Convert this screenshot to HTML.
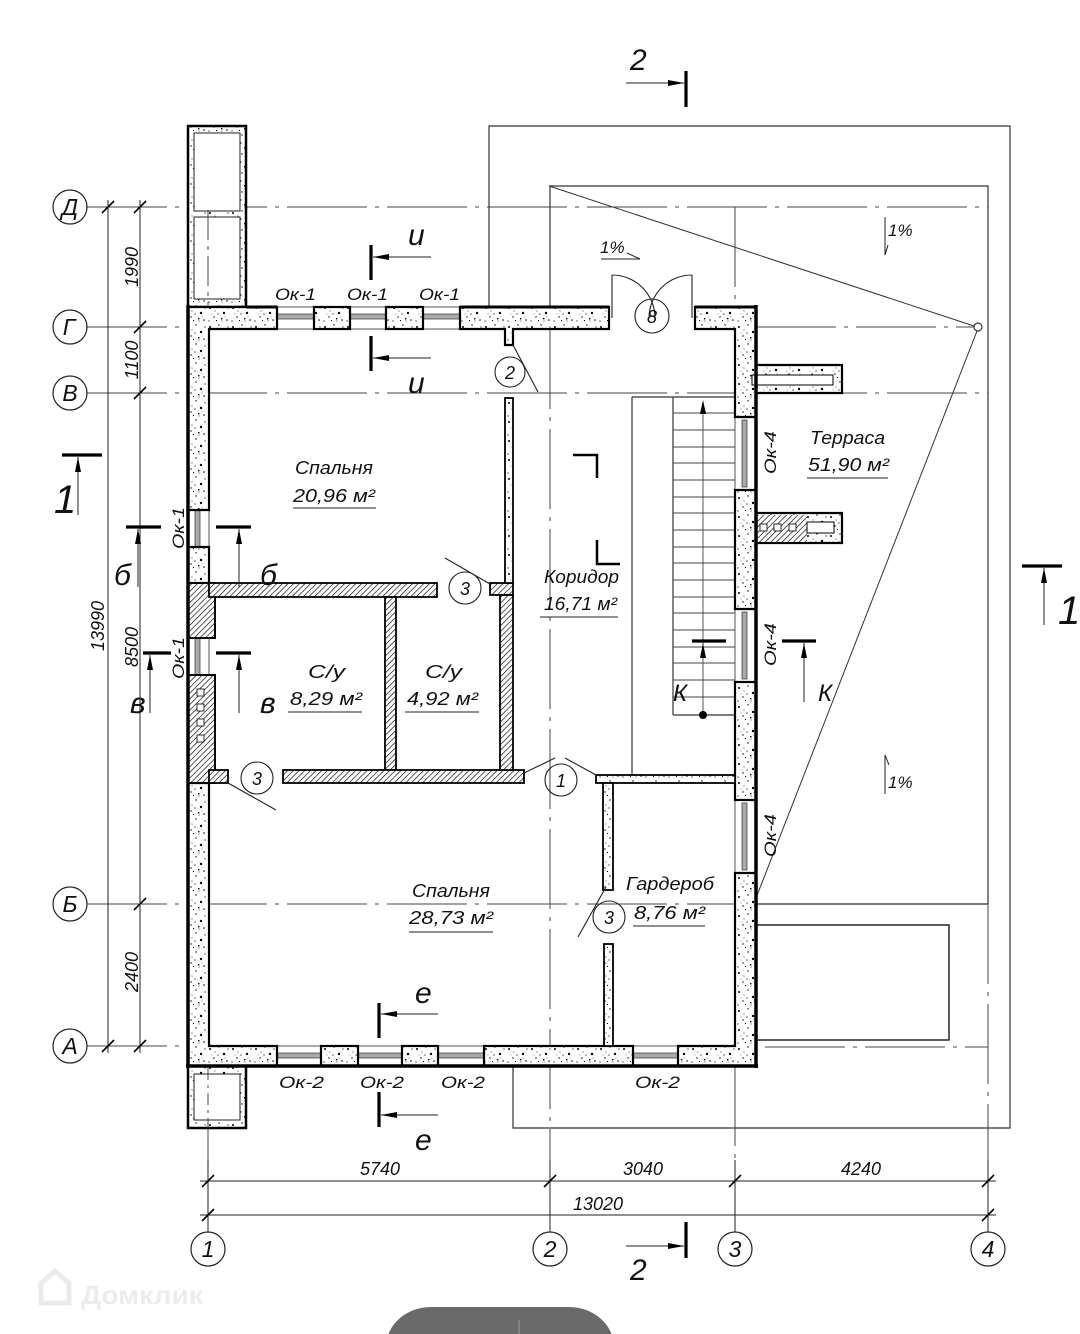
<!DOCTYPE html>
<html><head><meta charset="utf-8">
<style>
html,body{margin:0;padding:0;background:#fff;}
svg{display:block;}
text{font-family:"Liberation Sans",sans-serif;font-style:italic;fill:#111;}
</style></head><body>
<svg width="1080" height="1334" viewBox="0 0 1080 1334" xmlns="http://www.w3.org/2000/svg">
<defs>
<pattern id="conc" width="23" height="19" patternUnits="userSpaceOnUse">
<rect width="23" height="19" fill="#fff"/>
<circle cx="3" cy="4" r="1" fill="#000"/>
<circle cx="12" cy="2" r="0.7" fill="#000"/>
<circle cx="17" cy="9" r="1.2" fill="#000"/>
<circle cx="7" cy="13" r="0.7" fill="#000"/>
<circle cx="20" cy="16" r="0.8" fill="#000"/>
<circle cx="2" cy="17" r="0.6" fill="#000"/>
<circle cx="11" cy="10" r="0.6" fill="#000"/>
<circle cx="8" cy="7" r="0.5" fill="#000"/>
<circle cx="21" cy="4" r="0.6" fill="#000"/>
<circle cx="15" cy="17" r="0.5" fill="#000"/>
<circle cx="5" cy="10" r="0.4" fill="#000"/>
<circle cx="18" cy="13" r="0.4" fill="#000"/>
<rect x="14" y="14" width="1.4" height="1.4" fill="#000"/>
<rect x="9" y="16" width="1" height="1" fill="#000"/>
</pattern>
<pattern id="hatch" width="4" height="4" patternUnits="userSpaceOnUse" patternTransform="rotate(45)">
<rect width="4" height="4" fill="#fff"/>
<line x1="0" y1="0" x2="0" y2="4" stroke="#000" stroke-width="1.3"/>
</pattern>
</defs>
<rect width="1080" height="1334" fill="#fff"/>

<!-- ===== thin lines: terrace outlines, axes ===== -->
<g fill="none" stroke="#333" stroke-width="1.2">
<polyline points="489,307 489,126 1010,126 1010,1128 513,1128 513,1066"/>
<polyline points="550,307 550,186 988,186 988,904"/>
<line x1="756" y1="904" x2="988" y2="904"/>
<rect x="756" y="925" width="193" height="115" stroke-width="1.6"/>
<line x1="549" y1="186" x2="974" y2="326" stroke-width="1"/>
<line x1="977" y1="331" x2="756" y2="898" stroke-width="1"/>
<circle cx="978" cy="327" r="4"/>
<!-- stairs -->
<line x1="632" y1="397" x2="632" y2="775"/>
<line x1="632" y1="397" x2="735" y2="397"/>
<line x1="673" y1="397" x2="673" y2="715"/>
<line x1="673" y1="715" x2="735" y2="715"/>
</g>
<g stroke="#444" stroke-width="0.9">
<line x1="673" y1="413" x2="735" y2="413"/><line x1="673" y1="430" x2="735" y2="430"/>
<line x1="673" y1="447" x2="735" y2="447"/><line x1="673" y1="463" x2="735" y2="463"/>
<line x1="673" y1="480" x2="735" y2="480"/><line x1="673" y1="497" x2="735" y2="497"/>
<line x1="673" y1="513" x2="735" y2="513"/><line x1="673" y1="530" x2="735" y2="530"/>
<line x1="673" y1="547" x2="735" y2="547"/><line x1="673" y1="563" x2="735" y2="563"/>
<line x1="673" y1="580" x2="735" y2="580"/><line x1="673" y1="597" x2="735" y2="597"/>
<line x1="673" y1="613" x2="735" y2="613"/><line x1="673" y1="630" x2="735" y2="630"/>
<line x1="673" y1="647" x2="735" y2="647"/><line x1="673" y1="663" x2="735" y2="663"/>
<line x1="673" y1="680" x2="735" y2="680"/><line x1="673" y1="697" x2="735" y2="697"/>
<line x1="703" y1="405" x2="703" y2="715"/>
</g>
<polygon points="703,400 700,414 706,414" fill="#000"/>
<circle cx="703" cy="715" r="4" fill="#000"/>

<!-- axis lines (dash-dot) -->
<g fill="none" stroke="#444" stroke-width="1" stroke-dasharray="80 8 4 8">
<line x1="87" y1="207" x2="988" y2="207"/>
<line x1="87" y1="327" x2="188" y2="327"/>
<line x1="756" y1="327" x2="974" y2="327"/>
<line x1="87" y1="393" x2="988" y2="393"/>
<line x1="87" y1="904" x2="735" y2="904"/>
<line x1="87" y1="1046" x2="188" y2="1046"/>
<line x1="765" y1="1047" x2="988" y2="1047"/>
<line x1="550" y1="329" x2="550" y2="1232"/>
<line x1="735" y1="207" x2="735" y2="307"/>
<line x1="735" y1="1066" x2="735" y2="1232"/>
<line x1="988" y1="904" x2="988" y2="1232"/>
<line x1="208" y1="1128" x2="208" y2="1232"/>
</g>

<!-- ===== dimension lines ===== -->
<g stroke="#222" stroke-width="1" fill="none">
<line x1="108" y1="200" x2="108" y2="1053"/>
<line x1="140" y1="200" x2="140" y2="1053"/>
<line x1="200" y1="1181" x2="996" y2="1181"/>
<line x1="200" y1="1215" x2="996" y2="1215"/>
<line x1="208" y1="1160" x2="208" y2="1232"/>
<line x1="550" y1="1160" x2="550" y2="1232"/>
<line x1="735" y1="1160" x2="735" y2="1232"/>
<line x1="988" y1="1160" x2="988" y2="1232"/>
</g>
<g stroke="#000" stroke-width="1.6">
<line x1="102" y1="213" x2="114" y2="201"/><line x1="102" y1="1052" x2="114" y2="1040"/>
<line x1="134" y1="213" x2="146" y2="201"/><line x1="134" y1="333" x2="146" y2="321"/>
<line x1="134" y1="399" x2="146" y2="387"/><line x1="134" y1="910" x2="146" y2="898"/>
<line x1="134" y1="1052" x2="146" y2="1040"/>
<line x1="202" y1="1187" x2="214" y2="1175"/><line x1="544" y1="1187" x2="556" y2="1175"/>
<line x1="729" y1="1187" x2="741" y2="1175"/><line x1="982" y1="1187" x2="994" y2="1175"/>
<line x1="202" y1="1221" x2="214" y2="1209"/><line x1="982" y1="1221" x2="994" y2="1209"/>
</g>

<!-- axis circles -->
<g fill="#fff" stroke="#222" stroke-width="1.2">
<circle cx="70" cy="207" r="17"/><circle cx="70" cy="327" r="17"/><circle cx="70" cy="393" r="17"/>
<circle cx="70" cy="904" r="17"/><circle cx="70" cy="1046" r="17"/>
<circle cx="208" cy="1249" r="17"/><circle cx="550" cy="1249" r="17"/>
<circle cx="735" cy="1249" r="17"/><circle cx="988" cy="1249" r="17"/>
</g>
<g font-size="23" text-anchor="middle">
<text x="70" y="215">Д</text><text x="69" y="335">Г</text><text x="70" y="401">В</text>
<text x="70" y="912">Б</text><text x="70" y="1054">А</text>
<text x="208" y="1257">1</text><text x="550" y="1257">2</text>
<text x="735" y="1257">3</text><text x="988" y="1257">4</text>
</g>

<!-- dimension labels -->
<g font-size="18" text-anchor="middle">
<text transform="translate(138,267) rotate(-90)">1990</text>
<text transform="translate(138,360) rotate(-90)">1100</text>
<text transform="translate(104,626) rotate(-90)">13990</text>
<text transform="translate(138,647) rotate(-90)">8500</text>
<text transform="translate(138,972) rotate(-90)">2400</text>
<text x="380" y="1175">5740</text>
<text x="643" y="1175">3040</text>
<text x="861" y="1175">4240</text>
<text x="598" y="1210">13020</text>
</g>

<!-- ===== chimneys ===== -->
<rect x="188" y="126" width="58" height="181" fill="url(#conc)" stroke="#000" stroke-width="2.5"/>
<rect x="194" y="133" width="46" height="78" fill="#fff" stroke="#222" stroke-width="1"/>
<rect x="194" y="217" width="46" height="82" fill="#fff" stroke="#222" stroke-width="1"/>
<line x1="208" y1="210" x2="208" y2="305" stroke="#444" stroke-width="1" stroke-dasharray="30 6 4 6"/>
<rect x="188" y="1066" width="58" height="62" fill="url(#conc)" stroke="#000" stroke-width="2.5"/>
<rect x="194" y="1074" width="46" height="46" fill="#fff" stroke="#222" stroke-width="1"/>
<line x1="208" y1="1068" x2="208" y2="1128" stroke="#444" stroke-width="1" stroke-dasharray="12 5 3 5"/>

<!-- ===== windows ===== -->
<g fill="#fff" stroke="#444" stroke-width="0.9">
<rect x="277" y="307" width="37" height="22"/><rect x="350" y="307" width="36" height="22"/><rect x="423" y="307" width="37" height="22"/>
<rect x="188" y="510" width="21" height="37"/><rect x="188" y="638" width="21" height="37"/>
<rect x="735" y="417" width="21" height="73"/><rect x="735" y="609" width="21" height="73"/><rect x="735" y="800" width="21" height="73"/>
<rect x="277" y="1046" width="44" height="20"/><rect x="358" y="1046" width="44" height="20"/>
<rect x="438" y="1046" width="46" height="20"/><rect x="633" y="1046" width="45" height="20"/>
</g>
<g fill="#aaa" stroke="#333" stroke-width="0.7">
<rect x="277" y="314" width="37" height="5"/><rect x="350" y="314" width="36" height="5"/><rect x="423" y="314" width="37" height="5"/>
<rect x="195" y="510" width="5" height="37"/><rect x="195" y="638" width="5" height="37"/>
<rect x="742" y="420" width="5" height="67"/><rect x="742" y="612" width="5" height="67"/><rect x="742" y="803" width="5" height="67"/>
<rect x="277" y="1053" width="44" height="5"/><rect x="358" y="1053" width="44" height="5"/>
<rect x="438" y="1053" width="46" height="5"/><rect x="633" y="1053" width="45" height="5"/>
</g>

<!-- ===== exterior walls ===== -->
<g fill="url(#conc)" stroke="#000" stroke-width="2.2" stroke-linejoin="miter">
<path d="M188,307 H277 V329 H209 V510 H188 Z"/>
<rect x="314" y="307" width="36" height="22"/>
<rect x="386" y="307" width="37" height="22"/>
<path d="M460,307 H609 V329 H513 V345 H505 V329 H460 Z"/>
<path d="M695,307 H756 V365 H842 V393 H756 V417 H735 V329 H695 Z"/>
<path d="M735,490 H756 V513 H842 V543 H756 V609 H735 Z"/>
<rect x="735" y="682" width="21" height="118"/>
<path d="M735,873 H756 V1066 H678 V1046 H735 Z"/>
<rect x="484" y="1046" width="149" height="20"/>
<rect x="321" y="1046" width="37" height="20"/>
<rect x="402" y="1046" width="36" height="20"/>
<path d="M188,783 H209 V1046 H277 V1066 H188 Z"/>
<rect x="188" y="547" width="21" height="36"/>
</g>
<!-- hatched parts of left wall -->
<rect x="188" y="583" width="27" height="55" fill="url(#hatch)" stroke="#000" stroke-width="2"/>
<rect x="188" y="675" width="27" height="108" fill="url(#hatch)" stroke="#000" stroke-width="2"/>
<g fill="#fff" stroke="#000" stroke-width="0.8">
<rect x="197" y="689" width="7" height="7"/><rect x="197" y="704" width="7" height="7"/>
<rect x="197" y="719" width="7" height="7"/><rect x="197" y="735" width="7" height="7"/>
</g>
<!-- protrusion details -->
<rect x="752" y="375" width="81" height="10" fill="#fff" stroke="#000" stroke-width="1"/>
<rect x="757" y="515" width="50" height="27" fill="url(#hatch)" stroke="none"/>
<g fill="#fff" stroke="#000" stroke-width="0.8">
<rect x="760" y="524" width="7" height="7"/><rect x="774" y="524" width="7" height="7"/><rect x="789" y="524" width="7" height="7"/>
</g>
<rect x="807" y="522" width="27" height="11" fill="#fff" stroke="#000" stroke-width="1"/>
<!-- heavy outer edges -->
<g stroke="#000" stroke-width="3.5">
<line x1="188" y1="305" x2="188" y2="1068"/>
<line x1="756" y1="305" x2="756" y2="1068"/>
<line x1="186" y1="1066" x2="758" y2="1066"/>
</g>
<g stroke="#000" stroke-width="3">
<line x1="246" y1="307" x2="277" y2="307"/><line x1="460" y1="307" x2="609" y2="307"/><line x1="695" y1="307" x2="756" y2="307"/>
</g>

<!-- ===== interior partitions ===== -->
<g fill="url(#hatch)" stroke="#000" stroke-width="1.8">
<rect x="209" y="583" width="228" height="14"/>
<rect x="385" y="597" width="11" height="173"/>
<rect x="283" y="770" width="241" height="13"/>
<rect x="490" y="583" width="23" height="12"/>
<rect x="500" y="595" width="13" height="175"/>
<rect x="209" y="770" width="19" height="13"/>
</g>
<g fill="url(#conc)" stroke="#000" stroke-width="1.8">
<rect x="505" y="398" width="8" height="185"/>
<rect x="596" y="775" width="139" height="8"/>
<rect x="603" y="783" width="10" height="107"/>
<rect x="604" y="944" width="9" height="102"/>
</g>

<!-- ===== doors ===== -->
<g fill="none" stroke="#222" stroke-width="1.1">
<line x1="612" y1="275" x2="612" y2="318"/>
<line x1="692" y1="275" x2="692" y2="318"/>
<path d="M612,275 A43,43 0 0 1 655,318"/>
<path d="M692,275 A43,43 0 0 0 649,318"/>
<circle cx="652" cy="316" r="17"/>
<circle cx="510" cy="372" r="15"/>
<line x1="513" y1="345" x2="538" y2="392"/>
<circle cx="561" cy="780" r="16"/>
<polyline points="524,773 555,758"/>
<polyline points="565,758 596,775"/>
<circle cx="465" cy="588" r="16"/>
<line x1="445" y1="558" x2="490" y2="584"/>
<circle cx="257" cy="778" r="16"/>
<line x1="228" y1="783" x2="276" y2="810"/>
<circle cx="609" cy="917" r="16"/>
<line x1="578" y1="937" x2="606" y2="887"/>
</g>
<g font-size="18" text-anchor="middle">
<text x="652" y="323">8</text><text x="510" y="379">2</text><text x="561" y="787">1</text>
<text x="465" y="595">3</text><text x="257" y="785">3</text><text x="609" y="924">3</text>
</g>

<!-- corridor marks -->
<g fill="none" stroke="#000" stroke-width="2.5">
<polyline points="573,455 597,455 597,478"/>
<polyline points="597,540 597,564 620,564"/>
</g>

<!-- ===== section marks ===== -->
<g stroke="#000" stroke-width="3.2">
<line x1="686" y1="71" x2="686" y2="107"/>
<line x1="686" y1="1222" x2="686" y2="1258"/>
<line x1="62" y1="455" x2="102" y2="455"/>
<line x1="1022" y1="566" x2="1062" y2="566"/>
<line x1="371" y1="245" x2="371" y2="280"/>
<line x1="371" y1="336" x2="371" y2="371"/>
<line x1="126" y1="527" x2="161" y2="527"/>
<line x1="216" y1="527" x2="251" y2="527"/>
<line x1="143" y1="653" x2="171" y2="653"/>
<line x1="216" y1="653" x2="251" y2="653"/>
<line x1="379" y1="1003" x2="379" y2="1038"/>
<line x1="379" y1="1092" x2="379" y2="1127"/>
<line x1="692" y1="641" x2="726" y2="641"/>
<line x1="782" y1="641" x2="816" y2="641"/>
</g>
<g stroke="#222" stroke-width="1">
<line x1="626" y1="83" x2="684" y2="83"/>
<line x1="626" y1="1246" x2="684" y2="1246"/>
<line x1="78" y1="457" x2="78" y2="515"/>
<line x1="1044" y1="568" x2="1044" y2="625"/>
<line x1="373" y1="257" x2="431" y2="257"/>
<line x1="373" y1="358" x2="431" y2="358"/>
<line x1="138" y1="529" x2="138" y2="587"/>
<line x1="239" y1="529" x2="239" y2="587"/>
<line x1="150" y1="655" x2="150" y2="713"/>
<line x1="239" y1="655" x2="239" y2="713"/>
<line x1="381" y1="1014" x2="438" y2="1014"/>
<line x1="381" y1="1115" x2="438" y2="1115"/>
<line x1="804" y1="643" x2="804" y2="702"/>
</g>
<g fill="#000">
<polygon points="684,83 668,80 668,86"/>
<polygon points="684,1246 668,1243 668,1249"/>
<polygon points="78,457 75,472 81,472"/>
<polygon points="1044,568 1041,583 1047,583"/>
<polygon points="373,257 389,254 389,260"/>
<polygon points="373,358 389,355 389,361"/>
<polygon points="138,529 135,544 141,544"/>
<polygon points="239,529 236,544 242,544"/>
<polygon points="150,655 147,670 153,670"/>
<polygon points="239,655 236,670 242,670"/>
<polygon points="381,1014 397,1011 397,1017"/>
<polygon points="381,1115 397,1112 397,1118"/>
<polygon points="703,643 700,658 706,658"/>
<polygon points="804,643 801,658 807,658"/>
</g>
<g font-size="30">
<text x="630" y="70">2</text>
<text x="630" y="1280">2</text>
<text x="408" y="245">и</text>
<text x="408" y="393">и</text>
<text x="114" y="585">б</text>
<text x="260" y="585">б</text>
<text x="130" y="713">в</text>
<text x="260" y="713">в</text>
<text x="415" y="1003">е</text>
<text x="415" y="1150">е</text>
</g>
<g font-size="40">
<text x="54" y="513">1</text>
<text x="1058" y="624">1</text>
</g>
<g font-size="24">
<text x="673" y="701">К</text>
<text x="818" y="701">К</text>
</g>

<!-- ===== window labels ===== -->
<g font-size="17">
<text x="275" y="300" textLength="41" lengthAdjust="spacingAndGlyphs">Ок-1</text>
<text x="347" y="300" textLength="41" lengthAdjust="spacingAndGlyphs">Ок-1</text>
<text x="419" y="300" textLength="41" lengthAdjust="spacingAndGlyphs">Ок-1</text>
<text x="279" y="1088" textLength="45" lengthAdjust="spacingAndGlyphs">Ок-2</text>
<text x="360" y="1088" textLength="44" lengthAdjust="spacingAndGlyphs">Ок-2</text>
<text x="441" y="1088" textLength="44" lengthAdjust="spacingAndGlyphs">Ок-2</text>
<text x="635" y="1088" textLength="45" lengthAdjust="spacingAndGlyphs">Ок-2</text>
<text transform="translate(184,549) rotate(-90)" textLength="42" lengthAdjust="spacingAndGlyphs">Ок-1</text>
<text transform="translate(184,679) rotate(-90)" textLength="42" lengthAdjust="spacingAndGlyphs">Ок-1</text>
<text transform="translate(776,474) rotate(-90)" textLength="43" lengthAdjust="spacingAndGlyphs">Ок-4</text>
<text transform="translate(776,666) rotate(-90)" textLength="43" lengthAdjust="spacingAndGlyphs">Ок-4</text>
<text transform="translate(776,857) rotate(-90)" textLength="43" lengthAdjust="spacingAndGlyphs">Ок-4</text>
</g>

<!-- ===== room labels ===== -->
<g font-size="18">
<text x="295" y="474" textLength="78" lengthAdjust="spacingAndGlyphs">Спальня</text>
<text x="293" y="502" textLength="82" lengthAdjust="spacingAndGlyphs">20,96 м²</text>
<text x="544" y="583" textLength="75" lengthAdjust="spacingAndGlyphs">Коридор</text>
<text x="544" y="610" textLength="73" lengthAdjust="spacingAndGlyphs">16,71 м²</text>
<text x="308" y="678" textLength="37" lengthAdjust="spacingAndGlyphs">С/у</text>
<text x="290" y="705" textLength="72" lengthAdjust="spacingAndGlyphs">8,29 м²</text>
<text x="425" y="678" textLength="37" lengthAdjust="spacingAndGlyphs">С/у</text>
<text x="407" y="705" textLength="71" lengthAdjust="spacingAndGlyphs">4,92 м²</text>
<text x="412" y="897" textLength="78" lengthAdjust="spacingAndGlyphs">Спальня</text>
<text x="409" y="924" textLength="84" lengthAdjust="spacingAndGlyphs">28,73 м²</text>
<text x="626" y="890" textLength="88" lengthAdjust="spacingAndGlyphs">Гардероб</text>
<text x="634" y="919" textLength="71" lengthAdjust="spacingAndGlyphs">8,76 м²</text>
<text x="810" y="444" textLength="75" lengthAdjust="spacingAndGlyphs">Терраса</text>
<text x="808" y="471" textLength="81" lengthAdjust="spacingAndGlyphs">51,90 м²</text>
</g>
<g stroke="#222" stroke-width="1">
<line x1="293" y1="508" x2="376" y2="508"/>
<line x1="540" y1="617" x2="618" y2="617"/>
<line x1="288" y1="712" x2="362" y2="712"/>
<line x1="405" y1="712" x2="479" y2="712"/>
<line x1="409" y1="932" x2="493" y2="932"/>
<line x1="633" y1="926" x2="705" y2="926"/>
<line x1="807" y1="478" x2="888" y2="478"/>
</g>

<!-- slope marks -->
<g font-size="17">
<text x="600" y="253">1%</text>
<text x="888" y="236">1%</text>
<text x="888" y="788">1%</text>
</g>
<g stroke="#222" stroke-width="1" fill="none">
<polyline points="601,259 640,259 627,253"/>
<line x1="885" y1="217" x2="885" y2="255"/>
<line x1="885" y1="255" x2="888" y2="245"/>
<line x1="885" y1="755" x2="885" y2="794"/>
<line x1="885" y1="755" x2="889" y2="765"/>
</g>

<!-- watermark -->
<g fill="none" stroke="#ebebeb" stroke-width="5">
<path d="M41,1283 L55,1271 L69,1283 L69,1303 L41,1303 Z"/>
</g>
<text x="81" y="1304" font-size="26" textLength="122" lengthAdjust="spacingAndGlyphs" style="font-style:normal;font-weight:bold;fill:#ececec">Домклик</text>

<!-- bottom pill -->
<rect x="386" y="1307" width="228" height="80" rx="45" fill="#6a6a6a"/>
<line x1="519" y1="1320" x2="519" y2="1334" stroke="#9a9a9a" stroke-width="1"/>
</svg>
</body></html>
